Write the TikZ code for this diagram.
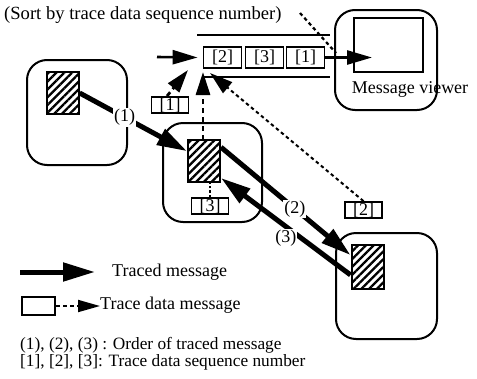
\documentclass[tikz,border=0pt]{standalone}
\usepackage{fontspec}
\setmainfont{Liberation Serif}
\usepackage{tikz}
\usetikzlibrary{positioning,arrows.meta,patterns.meta}
\tikzset{procbox/.style={draw, line width=2pt, rounded corners=20pt, inner sep=0pt}}
\tikzset{hatchbox/.style={draw, line width=2pt, inner sep=0pt, minimum width=32pt, minimum height=42pt, preaction={fill=white}, pattern={Lines[angle=45, distance=5.5pt, line width=2.3pt]}}}
\tikzset{seqbox/.style={draw, line width=1.8pt, inner sep=0pt, minimum width=37pt, minimum height=16pt, fill=white}}
\tikzset{qbox/.style={seqbox, minimum width=38pt, minimum height=21pt}}
\tikzset{traced/.style={draw, line width=5pt, -{Triangle[length=30pt,width=17pt]}}}
\tikzset{tdata/.style={draw, line width=2.8pt, dash pattern=on 5pt off 4pt, -{Triangle[length=23pt,width=14pt]}}}
\tikzset{tdata2/.style={draw, line width=2pt, dash pattern=on 3.5pt off 3pt, -{Triangle[length=23pt,width=14pt]}}}
\tikzset{qarr/.style={draw, line width=2.6pt, -{Triangle[length=25pt,width=14pt]}}}
\tikzset{rail/.style={draw, line width=2pt}}
\tikzset{lbl/.style={fill=white, inner sep=1pt}}
\tikzset{txt/.style={inner sep=0pt, anchor=west}}

\begin{document}
\begin{tikzpicture}[x=1pt, y=-1pt, every node/.style={font=\fontsize{18}{21}\selectfont}]
	\useasboundingbox (0,0) rectangle (477,378);

	\node[txt, font=\fontsize{18.6}{21}\selectfont] (title) at (4,15) {(Sort by trace data sequence number)};

	% message viewer and queue
	\node[procbox, minimum width=102pt, minimum height=100pt] (viewer) at (386,60) {};
	\node[draw, line width=2pt, minimum width=69pt, minimum height=54pt] (screen) at (388.5,45) {};
	\node[inner sep=0pt] (vlabel) at (410,89) {Message viewer};
	\node[qbox] (q2) at (222.5,57.5) {[2]};
	\node[qbox] (q3) at (264.5,57.5) {[3]};
	\node[qbox] (q1) at (305.5,57.5) {[1]};
	\coordinate (qt1) at (197,35);
	\coordinate (qt2) at (330,35);
	\coordinate (qb1) at (203,77);
	\coordinate (qb2) at (330,77);
	\draw[rail] (qt1) -- (qt2);
	\draw[rail] (qb1) -- (qb2);
	\coordinate (qin) at (157,57);
	\coordinate (vtip) at (372,57.5);
	\draw[qarr] (qin) -- ([xshift=-5pt]q2.west);
	\draw[qarr] (q1.east) -- (vtip);
	\coordinate (sortA) at (300,13);
	\coordinate (sortB) at (336,53);
	\draw[line width=2.2pt, dash pattern=on 3.5pt off 3pt] (sortA) -- (sortB);

	% processes
	\node[procbox, minimum width=100pt, minimum height=105pt] (lp) at (77,112.5) {};
	\node[procbox, minimum width=99pt, minimum height=99pt] (mp) at (212.5,172.5) {};
	\node[procbox, minimum width=101pt, minimum height=106pt] (rp) at (386.5,286) {};

	\coordinate (in1) at (188,70);
	\coordinate (in3) at (203,72);
	\coordinate (in2) at (210,73);
	\node[seqbox] (seq1) at (170,105) {[1]};
	\node[seqbox] (seq3) at (210,206) {[3]};
	\node[seqbox] (seq2) at (363.5,210) {[2]};
	\draw[tdata] ([xshift=-3pt]seq1.north) -- (in1);
	\draw[tdata] (203,140) -- (in3);
	\draw[line width=1.2pt, dash pattern=on 2.5pt off 2pt] (seq3.north) -- (seq3.north |- 0,182);
	\draw[tdata2] (seq2.north) -- (in2);

	\node[hatchbox] (lh) at (62.5,93) {};
	\node[hatchbox] (mh) at (204,161) {};
	\node[hatchbox, minimum height=44pt] (rh) at (367.5,267) {};

	\draw[traced] (lh.east) -- node[lbl, pos=0.42] {(1)} (mh.150);
	\draw[traced] (mh.39) -- node[lbl, pos=0.57] {(2)} (rh.145);
	\draw[traced] (rh.205) -- node[lbl, pos=0.5, below=0pt] {(3)} (mh.315);

	% legend
	\coordinate (lgA) at (20,272);
	\coordinate (lgB) at (95,272);
	\draw[traced, -{Triangle[length=32pt,width=18pt]}] (lgA) -- (lgB);
	\node[txt] (lgt1) at (112,272) {Traced message};
	\node[draw, line width=2pt, minimum width=33pt, minimum height=18pt, inner sep=0pt] (lgbox) at (38.5,306) {};
	\coordinate (lgC) at (100,306);
	\draw[line width=1.8pt, dash pattern=on 4pt off 3pt, -{Triangle[length=22pt,width=12pt]}] (lgbox.east) -- (lgC);
	\node[txt] (lgt2) at (100,305) {Trace data message};
	\node[txt, font=\fontsize{17.3}{20}\selectfont] (note1) at (20,345) {(1), (2), (3) : Order of traced message};
	\node[txt, font=\fontsize{17.3}{20}\selectfont] (note2) at (20,362) {[1], [2], [3]: Trace data sequence number};
\end{tikzpicture}
\end{document}
